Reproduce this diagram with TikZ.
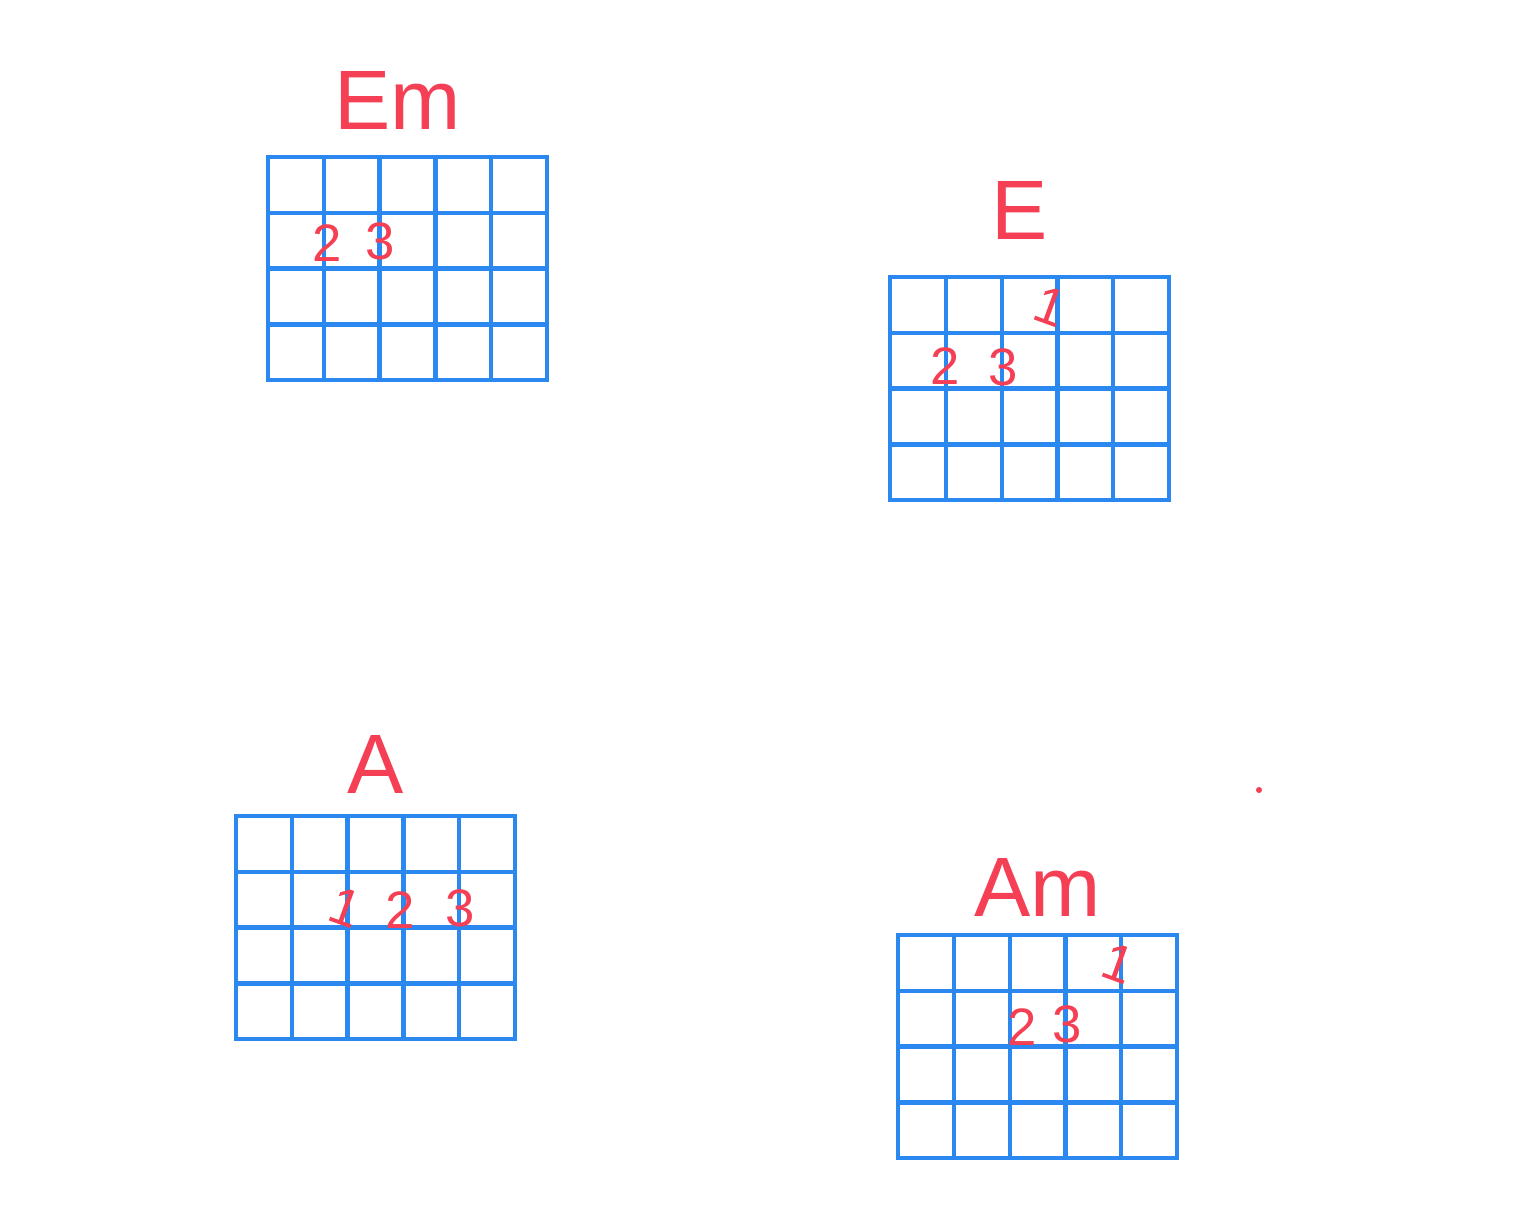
\documentclass[tikz,border=0pt]{standalone}
\usepackage{fontspec}
\setmainfont{Liberation Sans}
\usetikzlibrary{positioning,calc}
\definecolor{gridblue}{RGB}{42,136,240}
\definecolor{inkred}{RGB}{244,63,85}
\newcommand{\cellsize}{0.558}
% draws a 5x4 fret grid, its top left corner named #1
\newcommand{\fretgrid}[3]{%
  \coordinate (#1) at (#2,#3);
  \begin{scope}[shift={(#1)}]
    \foreach \c in {0,...,5}
      \draw[fret] (\c*\cellsize,0) -- (\c*\cellsize,-4*\cellsize);
    \foreach \r in {0,...,4}
      \draw[fret] (0,-\r*\cellsize) -- (5*\cellsize,-\r*\cellsize);
  \end{scope}
  \coordinate (#1-top) at ($(#1)+(2.5*\cellsize,0)$);
}

\begin{document}
\begin{tikzpicture}[
    fret/.style={draw=gridblue, line width=1.2pt, line cap=rect},
    chord/.style={text=inkred, font=\fontsize{24}{29}\selectfont, inner sep=0pt},
    finger/.style={text=inkred, font=\fontsize{15}{18}\selectfont, inner sep=0pt},
]
    \useasboundingbox (0,0) rectangle (15.36,-12.19);

    \fretgrid{emgrid}{2.68}{-1.57}
    \fretgrid{egrid}{8.90}{-2.77}
    \fretgrid{agrid}{2.36}{-8.16}
    \fretgrid{amgrid}{8.98}{-9.35}

    \node [chord, above=0.27cm of emgrid-top, xshift=-0.1cm] (em) {Em};
    \node [chord, above=0.37cm of egrid-top, xshift=-0.1cm] (e) {E};
    \node [chord, above=0.22cm of agrid-top] (a) {A};
    \node [chord, above=0.18cm of amgrid-top] (am) {Am};

    \node [finger] (em2) at ($(emgrid)+(0.59,-0.86)$) {2};
    \node [finger] (em3) at ($(emgrid)+(1.12,-0.84)$) {3};

    \node [finger, rotate=-20] (e1) at ($(egrid)+(1.60,-0.29)$) {1};
    \node [finger] (e2) at ($(egrid)+(0.55,-0.89)$) {2};
    \node [finger] (e3) at ($(egrid)+(1.13,-0.90)$) {3};

    \node [finger, rotate=-20] (a1) at ($(agrid)+(1.09,-0.91)$) {1};
    \node [finger] (a2) at ($(agrid)+(1.64,-0.94)$) {2};
    \node [finger] (a3) at ($(agrid)+(2.24,-0.92)$) {3};

    \node [finger, rotate=-20] (am1) at ($(amgrid)+(2.20,-0.28)$) {1};
    \node [finger] (am2) at ($(amgrid)+(1.24,-0.92)$) {2};
    \node [finger] (am3) at ($(amgrid)+(1.69,-0.89)$) {3};

    \fill [inkred] (12.59,-7.90) circle (0.03);
\end{tikzpicture}
\end{document}
